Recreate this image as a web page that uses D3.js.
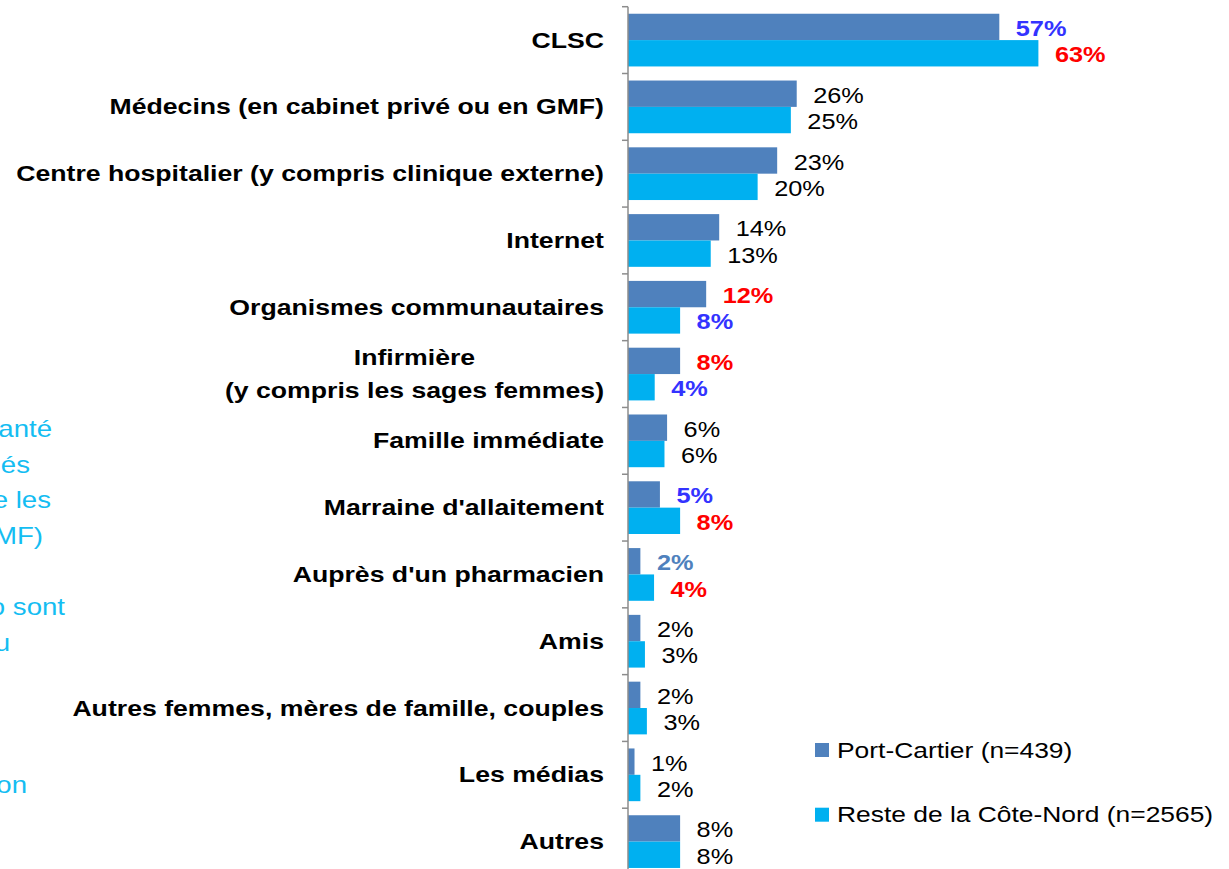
<!doctype html>
<html lang="fr">
<head>
<meta charset="utf-8">
<script src="https://cdn.jsdelivr.net/npm/d3@7"></script>
<style>
  body { margin: 0; background: #fff; }
  svg { display: block; font-family: "Liberation Sans", Arial, sans-serif; }
</style>
</head>
<body>
<div id="viz"></div>
<script>
// categories, top to bottom
const categories = [
  "CLSC",
  "Médecins (en cabinet privé ou en GMF)",
  "Centre hospitalier (y compris clinique externe)",
  "Internet",
  "Organismes communautaires",
  "Infirmière\n(y compris les sages femmes)",
  "Famille immédiate",
  "Marraine d'allaitement",
  "Auprès d'un pharmacien",
  "Amis",
  "Autres femmes, mères de famille, couples",
  "Les médias",
  "Autres"
];

const seriesNames = ["Port-Cartier (n=439)", "Reste de la Côte-Nord (n=2565)"];

// % values
const portCartier = [57.0, 25.9, 22.9, 14.0, 12.0, 8.0, 6.0, 4.9, 1.9, 1.9, 1.9, 1.0, 8.0];
const resteCoteNord = [63.0, 25.0, 19.9, 12.7, 8.0, 4.1, 5.6, 8.0, 4.0, 2.6, 2.9, 1.9, 8.0];

// significance marks on labels: "+" higher, "-" lower, "~" lower (other shade)
const sigPort  = ["-", "", "", "", "+", "+", "", "-", "~", "", "", "", ""];
const sigReste = ["+", "", "", "", "-", "-", "", "+", "+", "", "", "", ""];

// text cut off on the left edge of the slide
const noteLines = ["santé", "és", "e les", "(GMF)", "", "o sont", "u", "", "", "", "on"];
const noteEnds  = [52, 30, 51, 43, 0, 65, 10, 0, 0, 0, 27];

const width = 1229, height = 869;
const colors = ["#4F81BD", "#00B0F0"];
const sigColor = { "+": "#FF0000", "-": "#3333FF", "~": "#4F81BD", "": "#000" };

const svg = d3.select("#viz").append("svg")
  .attr("width", width)
  .attr("height", height);

const y = d3.scaleBand().domain(categories).range([6.7, 875]);
const ySub = d3.scaleBand().domain(seriesNames).range([0, y.bandwidth()]).paddingOuter(0.267);
const x = d3.scaleLinear().domain([0, 70]).range([628, 1084]);

// stretched text helper (the slide was scaled wider than tall)
function stext(g, tx, ty, str, size, sx) {
  return g.append("text")
    .attr("transform", `translate(${tx},${ty}) scale(${sx},1)`)
    .style("font-size", size + "px")
    .text(str);
}

// left note text
const note = svg.append("g").attr("fill", "#14BDF2");
noteLines.forEach((t, i) => {
  if (!t) return;
  stext(note, noteEnds[i], 437 + i * 35.6, t, 23, 1.2).attr("text-anchor", "end");
});

// bars
const rows = categories.map((c, i) => ({ cat: c, vals: [portCartier[i], resteCoteNord[i]], sig: [sigPort[i], sigReste[i]] }));

const bars = svg.append("g");
rows.forEach(r => {
  r.vals.forEach((v, j) => {
    bars.append("rect")
      .attr("x", x(0))
      .attr("y", y(r.cat) + ySub(seriesNames[j]))
      .attr("width", x(v) - x(0))
      .attr("height", ySub.bandwidth())
      .attr("fill", colors[j]);
  });
});

// value labels
const labels = svg.append("g");
rows.forEach(r => {
  r.vals.forEach((v, j) => {
    const s = r.sig[j];
    stext(labels, x(v) + 16.5, y(r.cat) + ySub(seriesNames[j]) + ySub.bandwidth() / 2 + 9, Math.round(v) + "%", 22, 1.15)
      .attr("fill", sigColor[s])
      .style("font-weight", s ? "bold" : "normal");
  });
});

// axis: line with ticks at category boundaries
const axis = svg.append("g").attr("stroke", "#8C8C8C").attr("stroke-width", 1.5);
axis.append("line")
  .attr("x1", x(0)).attr("x2", x(0))
  .attr("y1", y.range()[0]).attr("y2", y.range()[1]);
categories.concat([null]).forEach((c, i) => {
  const ty = c ? y(c) : y.range()[1];
  axis.append("line")
    .attr("x1", x(0) - 6).attr("x2", x(0))
    .attr("y1", ty).attr("y2", ty);
});

// category labels, bold, right aligned, multi-line centred
const cats = svg.append("g").style("font-weight", "bold").attr("fill", "#000");
const catSize = 21.5, catSx = 1.24, catRight = 604;
rows.forEach(r => {
  const lines = r.cat.split("\n");
  const cy = y(r.cat) + y.bandwidth() / 2;
  if (lines.length === 1) {
    stext(cats, catRight, cy + 7.5, lines[0], catSize, catSx).attr("text-anchor", "end");
  } else {
    const els = lines.map((t, k) => stext(cats, 0, cy + 7.5 + (k - (lines.length - 1) / 2) * 33, t, catSize, catSx)
      .attr("text-anchor", "middle"));
    const maxW = d3.max(els, e => e.node().getComputedTextLength()) * catSx;
    const mid = catRight - maxW / 2;
    els.forEach((e, k) => e.attr("transform", `translate(${mid},${cy + 7.5 + (k - (lines.length - 1) / 2) * 33}) scale(${catSx},1)`));
  }
});

// legend
const legend = svg.append("g");
seriesNames.forEach((n, j) => {
  const ly = 757.5 + j * 64.7;
  legend.append("rect")
    .attr("x", 815).attr("y", ly - 14.5)
    .attr("width", 14).attr("height", 14)
    .attr("fill", colors[j]);
  stext(legend, 837, ly, n, 22, 1.2).attr("fill", "#000");
});
</script>
</body>
</html>
